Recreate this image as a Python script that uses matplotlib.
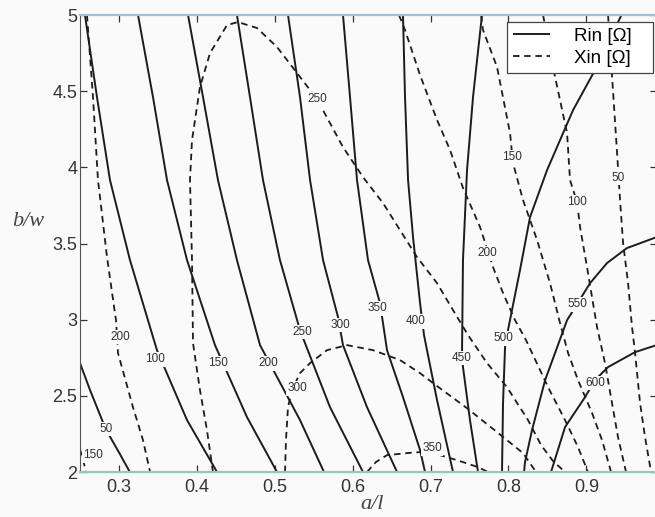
import matplotlib
matplotlib.use("Agg")
import matplotlib.pyplot as plt

# ---------------- data: (a/l, b/w) along each contour -------------
# Rin contours (solid)
rin_050_al = [0.250, 0.263, 0.283, 0.301, 0.314]
rin_050_bw = [2.715, 2.537, 2.282, 2.12, 2.0]
rin_100_al = [0.2564, 0.2718, 0.2885, 0.3142, 0.3488, 0.3874, 0.4259]
rin_100_bw = [5.0, 4.462, 3.917, 3.391, 2.80, 2.341, 2.0]
rin_150_al = [0.3245, 0.3437, 0.3617, 0.3874, 0.4233, 0.4644, 0.5029]
rin_150_bw = [5.0, 4.462, 3.917, 3.391, 2.833, 2.36, 2.0]
rin_200_al = [0.3887, 0.4079, 0.4271, 0.4515, 0.4811, 0.5324, 0.5632]
rin_200_bw = [5.0, 4.462, 3.917, 3.391, 2.833, 2.341, 2.0]
rin_250_al = [0.4515, 0.4682, 0.4849, 0.5067, 0.5324, 0.5709, 0.6133]
rin_250_bw = [5.0, 4.462, 3.917, 3.391, 2.931, 2.426, 2.0]
rin_300_al = [0.517, 0.5324, 0.5453, 0.562, 0.5812, 0.5876, 0.6184, 0.657]
rin_300_bw = [5.0, 4.462, 3.917, 3.391, 3.017, 2.833, 2.426, 2.0]
rin_350_al = [0.5876, 0.5966, 0.6056, 0.6197, 0.6351, 0.6441, 0.6646, 0.6865, 0.6929]
rin_350_bw = [5.0, 4.462, 3.917, 3.391, 3.109, 2.80, 2.492, 2.144, 2.0]
rin_400_al = [0.6646, 0.6672, 0.6711, 0.6775, 0.6865, 0.6916, 0.7083, 0.7288]
rin_400_bw = [5.0, 4.462, 3.917, 3.542, 3.109, 2.898, 2.472, 2.0]
rin_450_al = [0.766, 0.7545, 0.7468, 0.7416, 0.7404, 0.7416, 0.7506, 0.7609]
rin_450_bw = [5.0, 4.462, 3.982, 3.391, 2.80, 2.689, 2.341, 2.0]
rin_500_al = [0.945, 0.9111, 0.8829, 0.8495, 0.8277, 0.8148, 0.7994, 0.7956, 0.793, 0.7917]
rin_500_bw = [5.0, 4.639, 4.376, 3.982, 3.674, 3.326, 2.932, 2.82, 2.452, 2.0]
rin_550_al = [0.99, 0.952, 0.9265, 0.9047, 0.888, 0.8752, 0.847, 0.8302, 0.8212, 0.820]
rin_550_bw = [3.542, 3.47, 3.372, 3.24, 3.102, 2.997, 2.603, 2.275, 2.065, 2.0]
rin_600_al = [0.99, 0.9625, 0.9278, 0.911, 0.8983, 0.8726, 0.8546]
rin_600_bw = [2.833, 2.787, 2.689, 2.603, 2.492, 2.295, 2.0]

# Xin contours (dashed)
xin_150a_al = [0.25, 0.2545, 0.2577]
xin_150a_bw = [2.15, 2.07, 2.0]
xin_200a_al = [0.259, 0.2667, 0.2731, 0.2847, 0.2949, 0.2962, 0.2988, 0.318, 0.3309, 0.34]
xin_200a_bw = [5.0, 4.462, 3.917, 3.411, 3.043, 3.0, 2.781, 2.426, 2.209, 2.0]
xin_250_al = [0.4207, 0.413, 0.404, 0.3951, 0.3938, 0.3912, 0.3938, 0.404, 0.4169, 0.4387,
              0.4528, 0.4772, 0.5029, 0.5286, 0.5542, 0.5876, 0.6133, 0.6389, 0.6608,
              0.6826, 0.7083, 0.7288, 0.7481, 0.7725, 0.7981, 0.8251, 0.8418, 0.8572, 0.8726]
xin_250_bw = [2.0, 2.275, 2.538, 2.846, 3.391, 3.917, 4.179, 4.527, 4.75, 4.934,
              4.954, 4.915, 4.79, 4.619, 4.448, 4.133, 3.936, 3.766, 3.588,
              3.411, 3.24, 3.063, 2.899, 2.715, 2.557, 2.341, 2.177, 2.072, 2.0]
xin_300_al = [0.5132, 0.5144, 0.517, 0.5221, 0.5324, 0.5453, 0.5671, 0.5928, 0.6261,
              0.6608, 0.6865, 0.7031, 0.7468, 0.7853, 0.8187, 0.8354]
xin_300_bw = [2.0, 2.21, 2.426, 2.538, 2.649, 2.715, 2.80, 2.833, 2.80,
              2.735, 2.649, 2.584, 2.419, 2.262, 2.124, 2.0]
xin_350_al = [0.6184, 0.63, 0.6441, 0.6698, 0.6865, 0.7019, 0.7211, 0.7417, 0.7609, 0.7738]
xin_350_bw = [2.0, 2.066, 2.111, 2.124, 2.131, 2.124, 2.098, 2.065, 2.032, 2.0]
xin_200b_al = [0.6595, 0.6672, 0.6865, 0.7083, 0.725, 0.7417, 0.7635, 0.7802, 0.793,
               0.8084, 0.8225, 0.8508, 0.8726, 0.8893, 0.9021]
xin_200b_bw = [5.0, 4.902, 4.606, 4.311, 4.114, 3.864, 3.608, 3.345, 3.175,
               2.997, 2.866, 2.557, 2.341, 2.163, 2.0]
xin_150b_al = [0.7648, 0.7673, 0.7853, 0.802, 0.8058, 0.8187, 0.8367, 0.8533, 0.8662,
               0.8765, 0.8893, 0.9073, 0.9201, 0.9317]
xin_150b_bw = [5.0, 4.902, 4.659, 4.225, 4.028, 3.785, 3.523, 3.24, 2.978,
               2.781, 2.603, 2.387, 2.209, 2.0]
xin_100b_al = [0.8444, 0.8598, 0.8752, 0.879, 0.888, 0.8919, 0.9008, 0.9085, 0.9137,
               0.9239, 0.9329, 0.9406, 0.9509]
xin_100b_bw = [5.0, 4.593, 4.225, 3.917, 3.772, 3.608, 3.345, 3.109, 2.951,
               2.715, 2.452, 2.229, 2.0]
xin_050b_al = [0.9278, 0.933, 0.9394, 0.9432, 0.9471, 0.9535, 0.9586, 0.9625, 0.9689,
               0.9753, 0.983]
xin_050b_bw = [5.0, 4.593, 4.094, 3.785, 3.503, 3.24, 2.951, 2.781, 2.452, 2.229, 2.0]

# contour labels: text, a/l, b/w
rin_label_text = ["50", "100", "150", "200", "250", "300", "350", "400", "450", "500", "550", "600"]
rin_label_al = [0.2834, 0.3463, 0.4271, 0.4913, 0.535, 0.5838, 0.6313, 0.681, 0.7404, 0.793, 0.888, 0.911]
rin_label_bw = [2.282, 2.741, 2.715, 2.715, 2.919, 2.965, 3.076, 2.99, 2.748, 2.879, 3.102, 2.584]
xin_label_text = ["150", "200", "250", "300", "350", "150", "200", "100", "50"]
xin_label_al = [0.2667, 0.3013, 0.5542, 0.5286, 0.7019, 0.8046, 0.7725, 0.888, 0.9407]
xin_label_bw = [2.111, 2.886, 4.448, 2.551, 2.155, 4.068, 3.437, 3.772, 3.93]

x_ticks = [0.3, 0.4, 0.5, 0.6, 0.7, 0.8, 0.9]
y_ticks = [2, 2.5, 3, 3.5, 4, 4.5, 5]
x_tick_labels = ["0.3", "0.4", "0.5", "0.6", "0.7", "0.8", "0.9"]
y_tick_labels = ["2", "2.5", "3", "3.5", "4", "4.5", "5"]

rin_curves = [(rin_050_al, rin_050_bw), (rin_100_al, rin_100_bw), (rin_150_al, rin_150_bw),
              (rin_200_al, rin_200_bw), (rin_250_al, rin_250_bw), (rin_300_al, rin_300_bw),
              (rin_350_al, rin_350_bw), (rin_400_al, rin_400_bw), (rin_450_al, rin_450_bw),
              (rin_500_al, rin_500_bw), (rin_550_al, rin_550_bw), (rin_600_al, rin_600_bw)]
xin_curves = [(xin_150a_al, xin_150a_bw), (xin_200a_al, xin_200a_bw), (xin_250_al, xin_250_bw),
              (xin_300_al, xin_300_bw), (xin_350_al, xin_350_bw), (xin_200b_al, xin_200b_bw),
              (xin_150b_al, xin_150b_bw), (xin_100b_al, xin_100b_bw), (xin_050b_al, xin_050b_bw)]

# ---------------- drawing -------------
BG = "#fafafa"
INK = "#1c1c1c"
SANS = ["Liberation Sans", "DejaVu Sans"]

fig = plt.figure(figsize=(6.55, 5.17), dpi=100, facecolor=BG)
ax = fig.add_axes([0.1221, 0.0870, 0.8802, 0.8839], facecolor=BG)

h_rin = None
for al, bw in rin_curves:
    (ln,) = ax.plot(al, bw, color=INK, lw=1.4, solid_capstyle="butt", zorder=2)
    h_rin = h_rin or ln
h_xin = None
for al, bw in xin_curves:
    (ln,) = ax.plot(al, bw, color=INK, lw=1.3, linestyle=(0, (3.6, 2.6)), zorder=2)
    h_xin = h_xin or ln

for txt, x, y in zip(rin_label_text + xin_label_text,
                     rin_label_al + xin_label_al,
                     rin_label_bw + xin_label_bw):
    ax.text(x, y, txt, ha="center", va="center", fontsize=8.5, family=SANS, color="#303030",
            zorder=4, bbox=dict(boxstyle="square,pad=0.12", fc=BG, ec="none"))

ax.set_xlim(0.25, 0.99)
ax.set_ylim(2, 5)
ax.set_xticks(x_ticks)
ax.set_xticklabels(x_tick_labels)
ax.set_yticks(y_ticks)
ax.set_yticklabels(y_tick_labels)
ax.tick_params(direction="in", length=5, width=0.9, top=True, right=True,
               labelsize=13, colors="#333333")
ax.tick_params(axis="x", pad=5)
ax.tick_params(axis="y", pad=2)
for lab in ax.get_xticklabels() + ax.get_yticklabels():
    lab.set_family(SANS)

ax.spines["left"].set_color("#555555")
ax.spines["right"].set_color("#555555")
ax.spines["top"].set_color("#9fbfcf")
ax.spines["bottom"].set_color("#8fcdb2")
ax.spines["top"].set_linewidth(1.6)
ax.spines["bottom"].set_linewidth(1.6)

ax.text(0.5065, -0.071, "a/l", transform=ax.transAxes, ha="center", va="center",
        fontsize=16, family="Liberation Serif", style="italic", color="#444444")
ax.text(-0.090, 0.549, "b/w", transform=ax.transAxes, ha="center", va="center",
        fontsize=16, family="Liberation Serif", style="italic", color="#444444")

leg = ax.legend([h_rin, h_xin], ["Rin [Ω]   ", "Xin [Ω]   "], loc="upper right",
                bbox_to_anchor=(0.994, 0.985), borderaxespad=0,
                prop={"family": SANS, "size": 13.5}, frameon=True, fancybox=False,
                handlelength=2.0, handletextpad=1.25, labelspacing=0.28,
                borderpad=0.3)
leg.get_frame().set_edgecolor("#444444")
leg.get_frame().set_facecolor("white")
leg.get_frame().set_linewidth(0.9)
leg.get_frame().set_alpha(1)
leg.set_zorder(6)

fig.savefig("out.png", dpi=100, facecolor=BG)
